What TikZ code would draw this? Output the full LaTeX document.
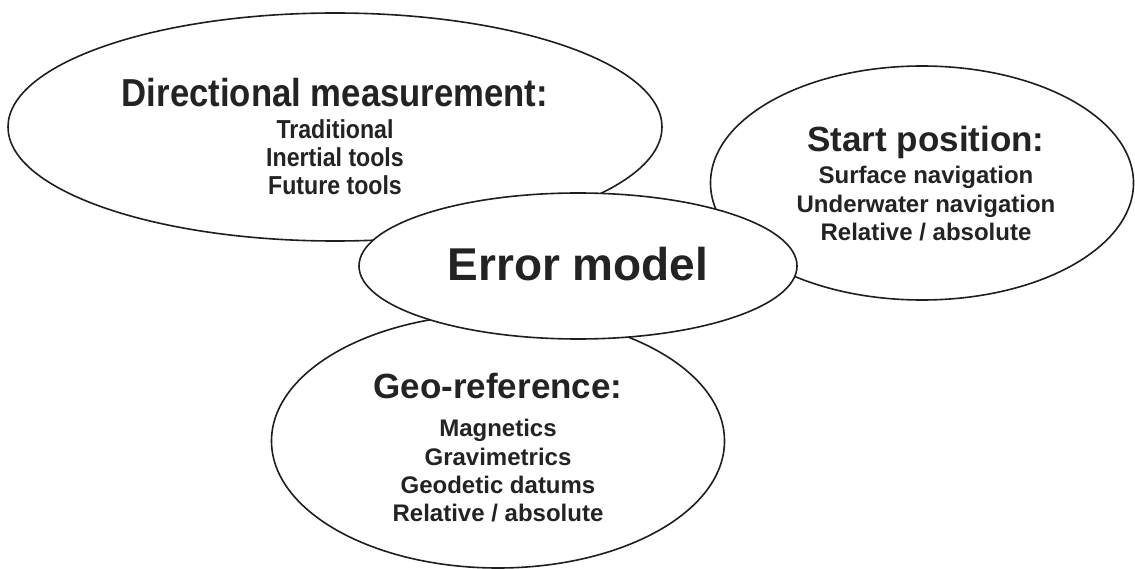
\documentclass[tikz,border=0pt]{standalone}
\usepackage{fontspec}
\setmainfont{Liberation Sans}
\newfontfamily\narrowsans[FakeStretch=0.89]{Liberation Sans}
\usetikzlibrary{shapes.geometric}
\definecolor{ink}{HTML}{1E1E1E}
\definecolor{txt}{HTML}{232323}
\begin{document}
\begin{tikzpicture}[x=1pt,y=-1pt,
  blob/.style={draw=ink, line width=1.6pt, ellipse, inner sep=0pt, fill=white},
  ttl/.style={text=txt, font=\fontsize{35}{40}\selectfont\bfseries, anchor=base, inner sep=0pt},
  itm/.style={text=txt, font=\fontsize{24}{28}\selectfont\bfseries, anchor=base, inner sep=0pt},
  nttl/.style={text=txt, font=\narrowsans\fontsize{39}{44}\selectfont\bfseries, anchor=base, inner sep=0pt},
  nitm/.style={text=txt, font=\narrowsans\fontsize{26}{30}\selectfont\bfseries, anchor=base, inner sep=0pt}]
\useasboundingbox (0,0) rectangle (1135,569);

% outer topic ellipses
\node[blob, minimum width=654pt, minimum height=228pt] (dir) at (335,127) {};
\node[blob, minimum width=423pt, minimum height=234pt] (start) at (922,183) {};
\node[blob, minimum width=453pt, minimum height=254pt] (geo) at (498,441) {};
% central ellipse drawn last so it covers the others
\node[blob, minimum width=438pt, minimum height=146pt] (err) at (578,266) {};

% directional measurement
\node[nttl] (dirT) at (335,107) {Directional measurement:};
\node[nitm] (dir1) at (335,139) {Traditional};
\node[nitm] (dir2) at (335,167) {Inertial tools};
\node[nitm] (dir3) at (335,195) {Future tools};

% start position
\node[ttl] (stT) at (926,152) {Start position:};
\node[itm] (st1) at (926,184) {Surface navigation};
\node[itm] (st2) at (926,213) {Underwater navigation};
\node[itm] (st3) at (926,241) {Relative / absolute};

% geo-reference
\node[ttl] (geoT) at (498,398) {Geo-reference:};
\node[itm] (geo1) at (498,436) {Magnetics};
\node[itm] (geo2) at (498,465) {Gravimetrics};
\node[itm] (geo3) at (498,493) {Geodetic datums};
\node[itm] (geo4) at (498,521) {Relative / absolute};

% error model
\node[text=txt, font=\fontsize{46}{52}\selectfont\bfseries, anchor=base, inner sep=0pt] (errT) at (578,281) {Error model};
\end{tikzpicture}
\end{document}
